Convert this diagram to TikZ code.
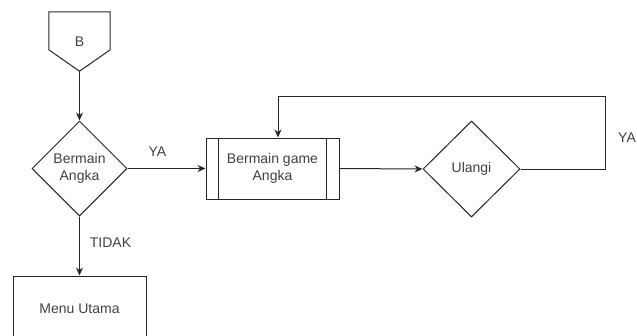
\documentclass[tikz,border=0pt]{standalone}
\usepackage{fontspec}
\setmainfont{Liberation Sans}
\usetikzlibrary{shapes.geometric,arrows.meta,calc}
\begin{document}
\begin{tikzpicture}[x=1pt,y=-1pt,
  every node/.style={font=\fontsize{14}{17.5}\selectfont, text=black!75, align=center},
  ln/.style={draw=black!85, line width=1pt},
  arr/.style={ln, -{Stealth[length=8pt,width=7pt]}},
  dec/.style={ln, diamond, inner sep=0pt, aspect=1},
  box/.style={ln, rectangle, inner sep=0pt},
  lbl/.style={inner sep=0pt}
]
\useasboundingbox (0,0) rectangle (637,335);
% off-page connector B
\node[inner sep=0pt, minimum width=61pt, minimum height=59pt] (B) at (79.5,41.5) {B};
\draw[ln] (B.north west) -- (B.north east) -- ($(B.north east)+(0,38)$) -- (B.south) -- ($(B.north west)+(0,38)$) -- cycle;
% decision 1
\node[dec, minimum width=95pt, minimum height=95pt] (d1) at (79.5,168.5) {Bermain\\Angka};
% predefined process
\node[box, minimum width=133pt, minimum height=61pt] (p) at (272.5,168.5) {Bermain game\\Angka};
\draw[ln] ($(p.north west)+(13,0)$) -- ($(p.south west)+(13,0)$);
\draw[ln] ($(p.north east)+(-13,0)$) -- ($(p.south east)+(-13,0)$);
% decision 2
\node[dec, minimum width=97pt, minimum height=96pt] (d2) at (471.5,169) {Ulangi};
% menu utama
\node[box, minimum width=133pt, minimum height=66pt] (m) at (79.5,309) {Menu Utama};
% loop corner
\coordinate (c1) at (605,96);
% connectors
\draw[arr] (B.south) -- (d1.north);
\draw[arr] (d1.east) -- (p.west);
\draw[arr] (d1.south) -- (m.north);
\draw[arr] (p.east) -- (d2.west);
\draw[arr] (d2.east) -| (c1) -| ([xshift=5.5pt]p.north);
% labels
\node[lbl] (ya1) at (157.5,152) {YA};
\node[lbl] (tidak) at (110.5,243) {TIDAK};
\node[lbl, anchor=west] (ya2) at (618,138) {YA};
\end{tikzpicture}
\end{document}
